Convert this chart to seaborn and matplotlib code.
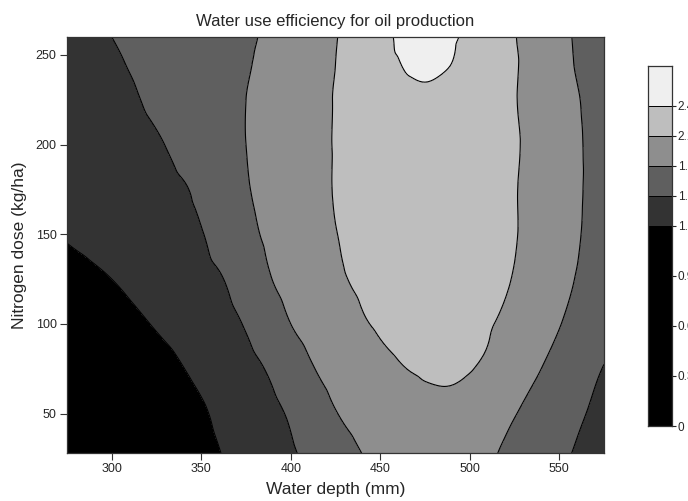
# Water use efficiency response surface (filled contour, gray levels)
import numpy as np
import matplotlib
matplotlib.use("Agg")
import matplotlib.pyplot as plt
import matplotlib.tri as mtri
import seaborn as sns

# grid: water depth (mm) x nitrogen dose (kg/ha)
water_depth = [275, 300, 325, 350, 362.5, 375, 387.5, 400, 412.5, 425, 450, 475, 500, 525, 550, 575]
nitrogen = [28, 50, 75, 100, 125, 150, 175, 200, 225, 245, 260]

# estimated WUE values, one row per nitrogen dose
wue_n28 = [0.61, 0.78, 0.96, 1.13, 1.21, 1.30, 1.38, 1.47, 1.58, 1.70, 1.86, 1.98, 1.92, 1.72, 1.55, 1.37]
wue_n50 = [0.66, 0.83, 1.00, 1.17, 1.26, 1.34, 1.43, 1.53, 1.66, 1.79, 1.93, 2.04, 1.97, 1.81, 1.62, 1.42]
wue_n75 = [0.78, 0.94, 1.10, 1.26, 1.34, 1.42, 1.52, 1.65, 1.79, 1.90, 2.05, 2.12, 2.11, 1.93, 1.71, 1.49]
wue_n100 = [0.94, 1.08, 1.22, 1.35, 1.42, 1.52, 1.66, 1.80, 1.91, 2.01, 2.12, 2.16, 2.14, 2.04, 1.81, 1.60]
wue_n125 = [1.09, 1.20, 1.32, 1.43, 1.50, 1.63, 1.78, 1.89, 1.98, 2.07, 2.15, 2.19, 2.16, 2.09, 1.88, 1.64]
wue_n150 = [1.22, 1.31, 1.40, 1.49, 1.60, 1.73, 1.84, 1.93, 2.02, 2.095, 2.17, 2.22, 2.17, 2.11, 1.91, 1.68]
wue_n175 = [1.26, 1.35, 1.43, 1.54, 1.66, 1.78, 1.87, 1.95, 2.03, 2.11, 2.19, 2.26, 2.19, 2.11, 1.92, 1.69]
wue_n200 = [1.30, 1.39, 1.48, 1.61, 1.71, 1.80, 1.88, 1.96, 2.04, 2.11, 2.20, 2.30, 2.21, 2.12, 1.92, 1.69]
wue_n225 = [1.33, 1.43, 1.54, 1.66, 1.73, 1.80, 1.87, 1.95, 2.03, 2.11, 2.22, 2.34, 2.23, 2.11, 1.91, 1.67]
wue_n245 = [1.37, 1.47, 1.57, 1.68, 1.73, 1.78, 1.86, 1.94, 2.02, 2.10, 2.30, 2.47, 2.32, 2.12, 1.88, 1.63]
wue_n260 = [1.41, 1.50, 1.59, 1.68, 1.72, 1.76, 1.84, 1.92, 2.00, 2.09, 2.32, 2.55, 2.34, 2.11, 1.87, 1.62]

levels = [0, 1.2, 1.5, 1.8, 2.1, 2.4, 2.7]
grays = ["#000000", "#333333", "#5f5f5f", "#8e8e8e", "#bebebe", "#efefef"]
key_ticks = [0, 0.3, 0.6, 0.9, 1.2, 1.5, 1.8, 2.1, 2.4]
key_labels = ["0", "0.3", "0.6", "0.9", "1.2", "1.5", "1.8", "2.1", "2.4"]

sns.set_theme(style="ticks")
plt.rcParams["font.family"] = ["Liberation Sans", "DejaVu Sans"]

Z = np.array([wue_n28, wue_n50, wue_n75, wue_n100, wue_n125, wue_n150,
              wue_n175, wue_n200, wue_n225, wue_n245, wue_n260])
X, Y = np.meshgrid(water_depth, nitrogen)

# explicit triangles for the grid
nx, ny = len(water_depth), len(nitrogen)
tris = []
for j in range(ny - 1):
    for i in range(nx - 1):
        a = j * nx + i
        tris.append([a, a + 1, a + nx + 1])
        tris.append([a, a + nx + 1, a + nx])
tri = mtri.Triangulation(X.ravel(), Y.ravel(), np.array(tris))
interp = mtri.CubicTriInterpolator(tri, Z.ravel(), kind="geom")
tri_f, z_f = mtri.UniformTriRefiner(tri).refine_field(Z.ravel(), triinterpolator=interp, subdiv=4)
z_f = np.clip(z_f, levels[0] + 1e-6, levels[-1] - 1e-6)

fig = plt.figure(figsize=(6.88, 5.01), dpi=100)
ax = fig.add_axes([0.0974, 0.0958, 0.7805, 0.8303])
ax.tricontourf(tri_f, z_f, levels=levels, colors=grays)
ax.tricontour(tri_f, z_f, levels=levels[1:-1], colors="black", linewidths=0.8)

ax.set_xlim(275, 575)
ax.set_ylim(28, 260)
ax.set_xticks([300, 350, 400, 450, 500, 550])
ax.set_yticks([50, 100, 150, 200, 250])
ax.tick_params(direction="out", length=5, width=0.8, labelsize=9, color="#333333", pad=2.5)
for s in ax.spines.values():
    s.set_linewidth(0.9)
    s.set_color("#333333")
ax.set_title("Water use efficiency for oil production", fontsize=12, pad=8)
ax.set_xlabel("Water depth (mm)", fontsize=12.5, labelpad=5)
ax.set_ylabel("Nitrogen dose (kg/ha)", fontsize=12.5, labelpad=6)

# key: black band stretched, like the reference
key_v = [-3, 0, 1.2, 2.4, 2.7, 6.0]
key_p = [-500, 0, 200, 320, 360, 800]
fwd = lambda v: np.interp(v, key_v, key_p)
inv = lambda p: np.interp(p, key_p, key_v)
cax = fig.add_axes([0.942, 0.1497, 0.0349, 0.7186])
cax.set_yscale("function", functions=(fwd, inv))
cax.bar(0.5, np.diff(levels), bottom=levels[:-1], width=1, color=grays,
        edgecolor="black", linewidth=0.7)
cax.set_xlim(0, 1)
cax.set_ylim(levels[0], levels[-1])
cax.set_xticks([])
cax.yaxis.tick_right()
cax.set_yticks(key_ticks)
cax.set_yticklabels(key_labels)
cax.yaxis.set_minor_locator(matplotlib.ticker.NullLocator())
cax.tick_params(axis="y", direction="out", length=3, width=0.8, labelsize=8.5, pad=1)
for s in cax.spines.values():
    s.set_linewidth(0.9)
    s.set_color("#333333")

plt.savefig("out.png", dpi=100)
